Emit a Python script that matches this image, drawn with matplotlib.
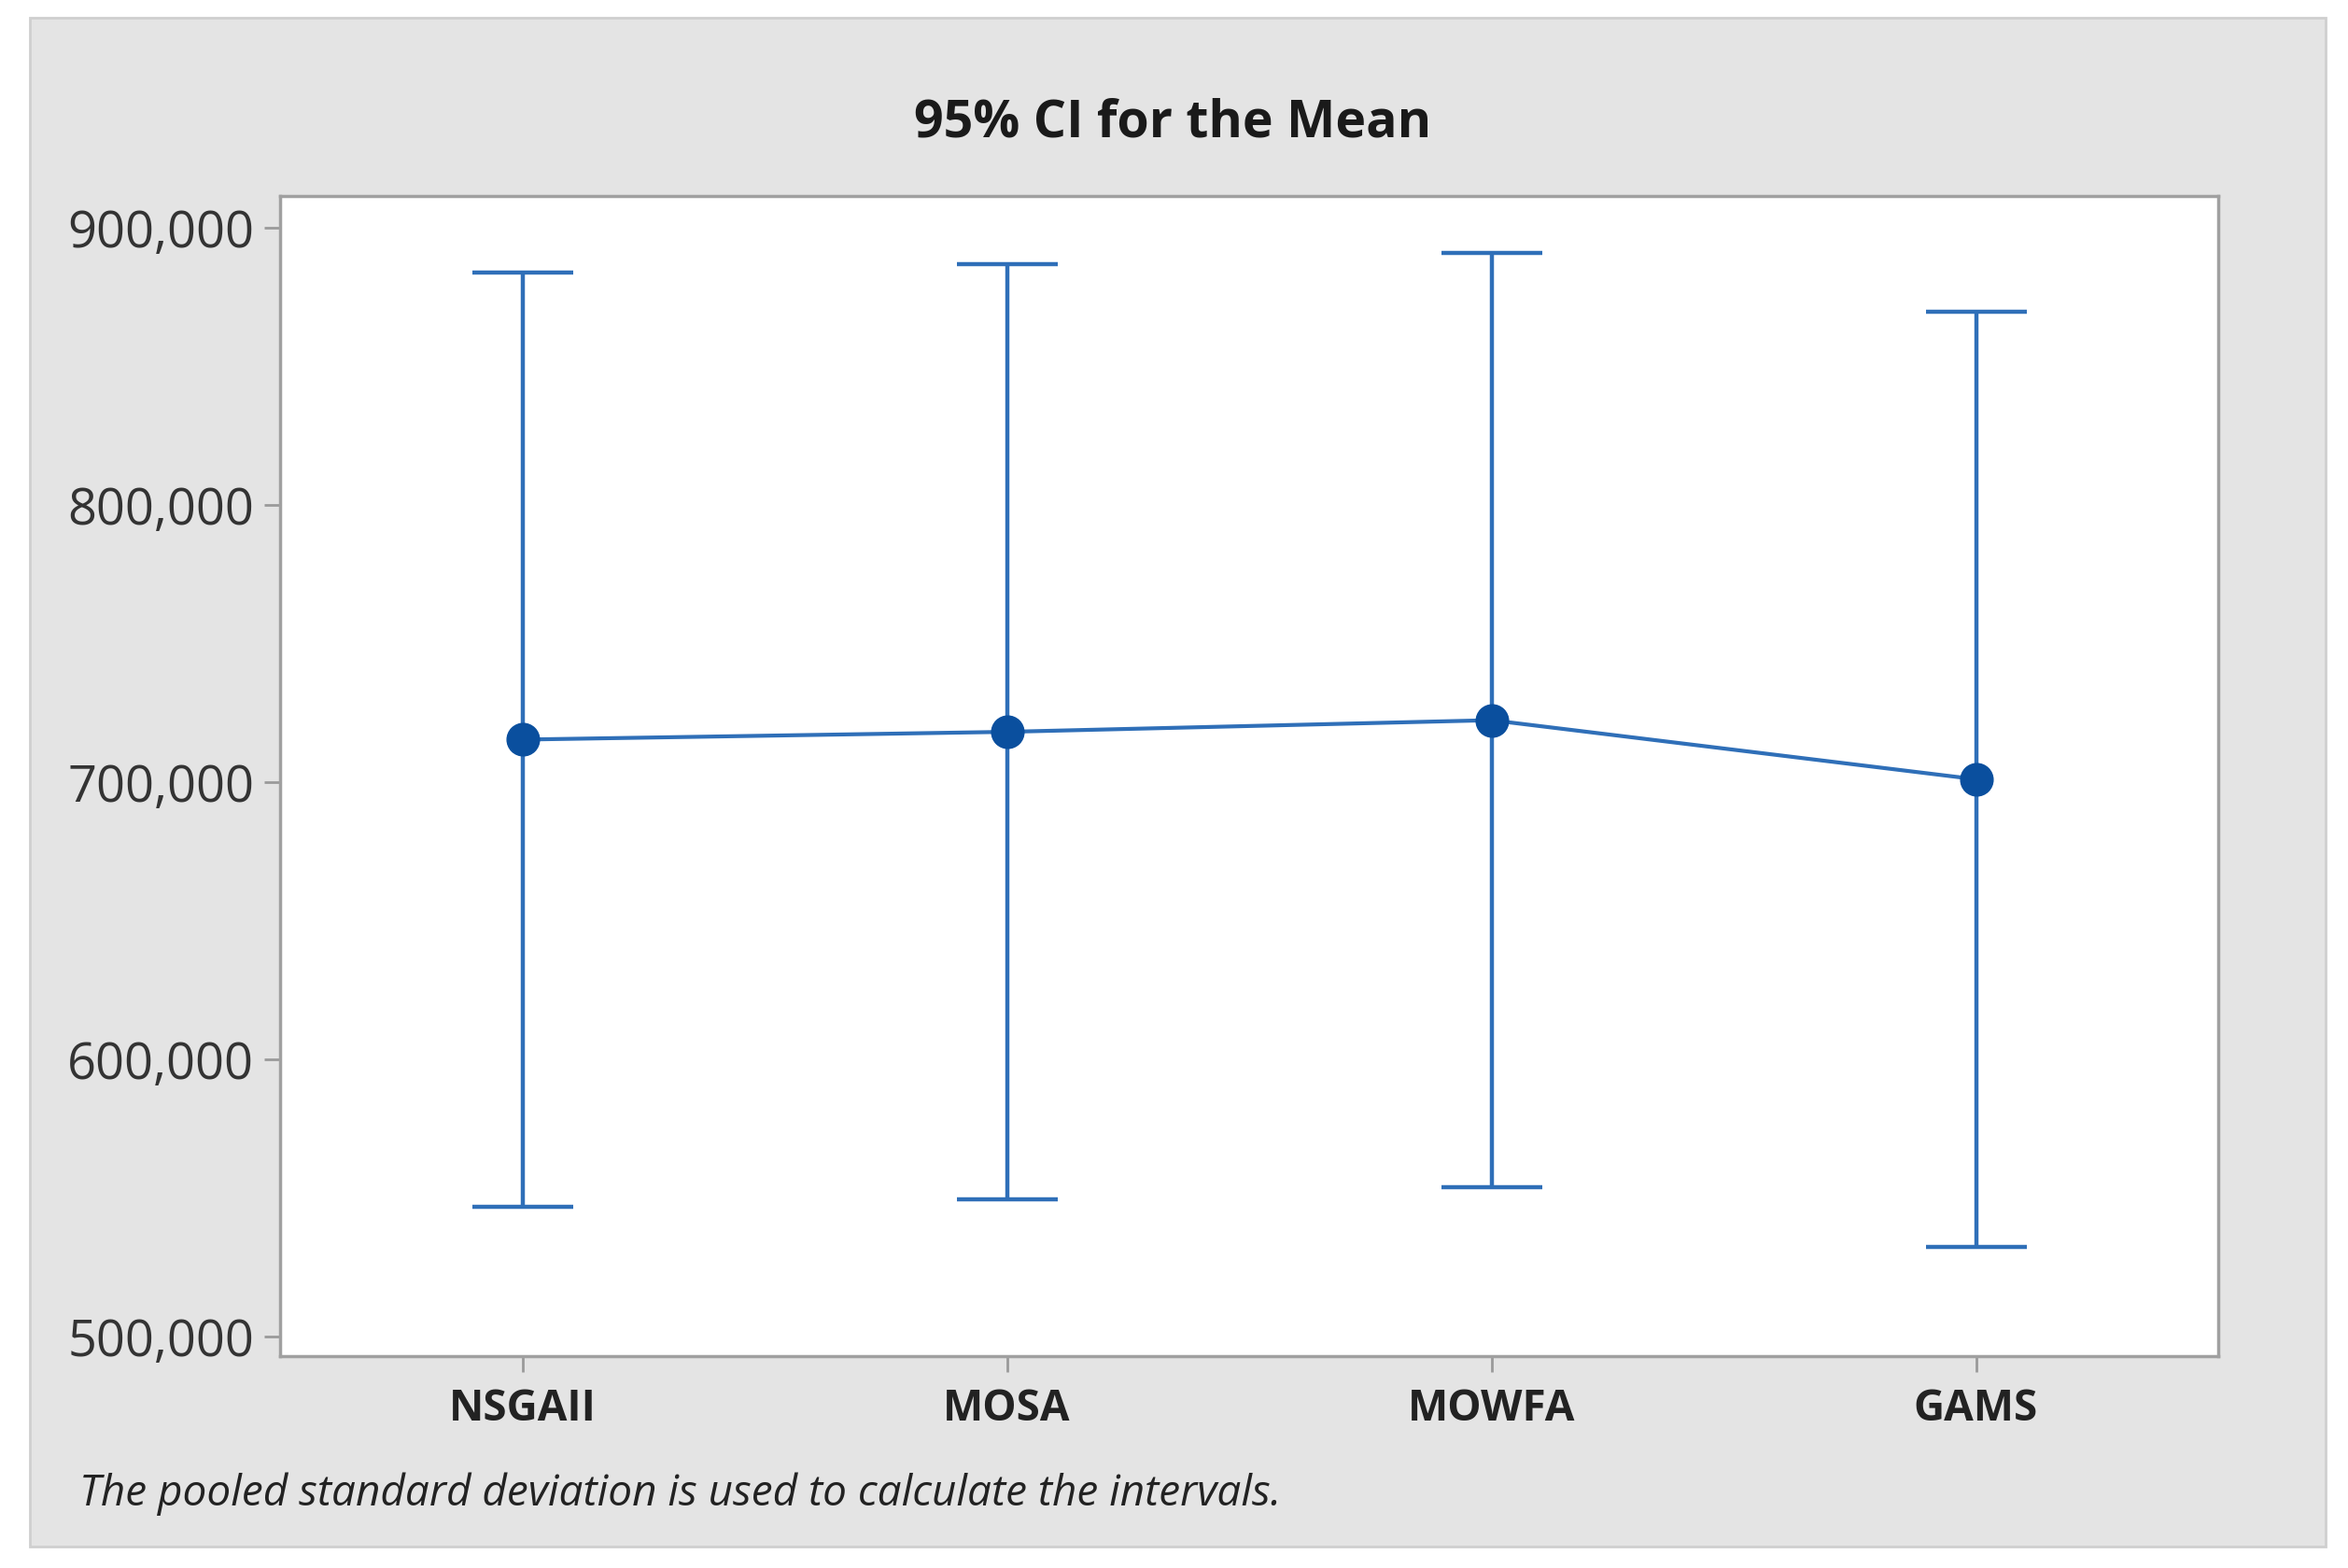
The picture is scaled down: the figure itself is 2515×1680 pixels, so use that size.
import matplotlib
matplotlib.use("Agg")
import matplotlib.pyplot as plt
from matplotlib.patches import Rectangle
from matplotlib.ticker import FuncFormatter

categories = ["NSGAII", "MOSA", "MOWFA", "GAMS"]
means = [715300, 718100, 722300, 701000]
lower = [547000, 549600, 553800, 532500]
upper = [883700, 886700, 890800, 869500]
yticks = [500000, 600000, 700000, 800000, 900000]
title = "95% CI for the Mean"
footnote = "The pooled standard deviation is used to calculate the intervals."

W, H = 2515, 1680
fig = plt.figure(figsize=(W / 100, H / 100), dpi=100)
fig.patch.set_facecolor("white")

# gray panel
fig.patches.append(Rectangle((32 / W, 1 - 1657 / H), (2491 - 32) / W, (1657 - 19) / H,
                             transform=fig.transFigure, facecolor="#e4e4e4",
                             edgecolor="#cfcfcf", linewidth=2, zorder=-10))

ax = fig.add_axes([300 / W, 1 - 1453 / H, (2376 - 300) / W, (1453 - 210) / H])
ax.set_zorder(5)
ax.set_facecolor("white")

x = list(range(len(categories)))
yerr_low = [m - l for m, l in zip(means, lower)]
yerr_up = [u - m for m, u in zip(means, upper)]

ax.errorbar(x, means, yerr=[yerr_low, yerr_up], fmt="none", ecolor="#2f6fb8",
            elinewidth=3.2, capsize=39, capthick=3.2, zorder=2)
ax.plot(x, means, color="#2f6fb8", linewidth=3.0, zorder=3)
ax.plot(x, means, linestyle="none", marker="o", markersize=25,
        color="#0a4f9e", markeredgecolor="#0a4f9e", zorder=4)

ax.set_xlim(-0.5, 3.5)
ax.set_ylim(493000, 911300)
ax.set_yticks(yticks)
ax.yaxis.set_major_formatter(FuncFormatter(lambda v, p: f"{int(v):,}"))
ax.set_xticks(x)
ax.set_xticklabels(categories, fontfamily=["Open Sans", "DejaVu Sans"],
                   fontweight="bold", fontsize=33, color="#222222")
for lab in ax.get_yticklabels():
    lab.set_fontfamily(["Open Sans", "DejaVu Sans"])
    lab.set_fontsize(39)
    lab.set_color("#333333")

ax.tick_params(axis="both", direction="out", length=12, width=2, color="#9a9a9a")
ax.tick_params(axis="y", pad=8)
ax.tick_params(axis="x", pad=12)
for s in ax.spines.values():
    s.set_color("#a0a0a0")
    s.set_linewidth(2.5)

fig.text(1256 / W, 1 - 132 / H, title, ha="center", va="center",
         fontsize=40, fontweight="bold", color="#1a1a1a",
         fontfamily=["Open Sans", "DejaVu Sans"])
fig.text(85 / W, 1 - 1601 / H, footnote, ha="left", va="center",
         fontsize=33, fontstyle="italic", color="#222222",
         fontfamily=["Open Sans", "DejaVu Sans"])

fig.savefig("out.png", dpi=100)
